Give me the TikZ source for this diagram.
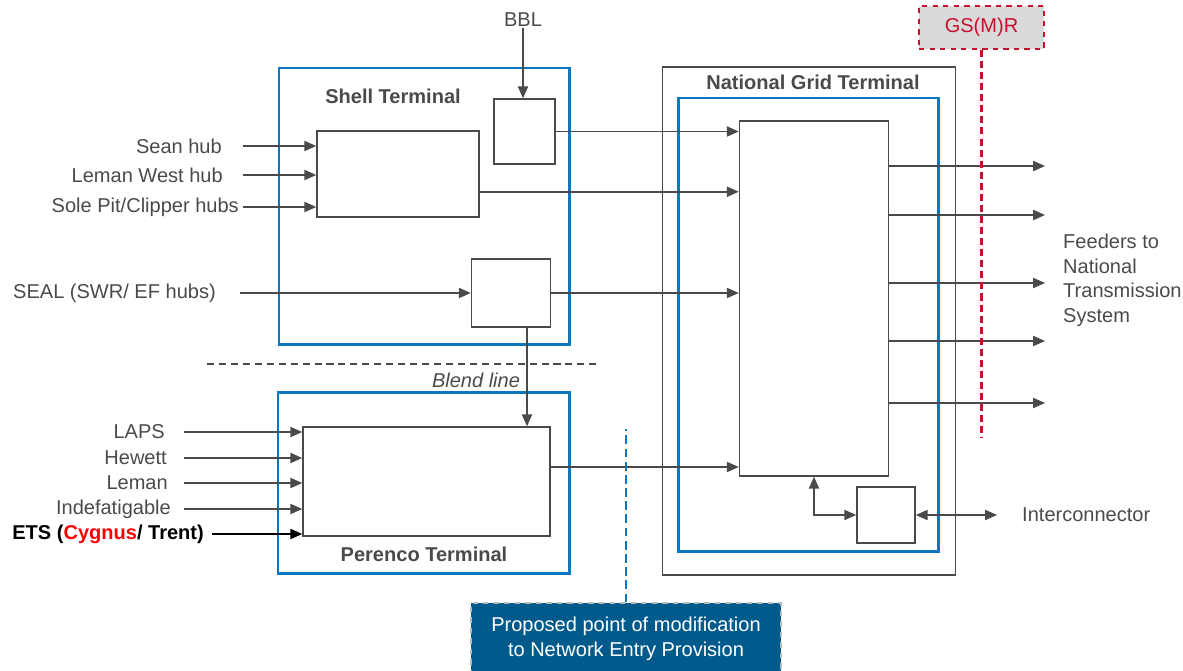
\documentclass[tikz,border=0pt]{standalone}
\usepackage{fontspec}
\setmainfont{Liberation Sans}
\usetikzlibrary{arrows.meta,calc}

\definecolor{termblue}{HTML}{0A78BE}
\definecolor{linegrey}{HTML}{4A4A4A}
\definecolor{navyfill}{HTML}{005A8C}
\definecolor{gsred}{HTML}{C8102E}
\definecolor{gsfill}{HTML}{D9D9D9}
\newcommand{\px}{0.02cm}
\newcommand{\lblfont}{\fontsize{11.4}{13.9}\selectfont}

\tikzset{
  blk/.style 2 args={draw=linegrey, line width=0.85pt, minimum width=#1*\px, minimum height=#2*\px, inner sep=0pt},
  terminal/.style 2 args={draw=termblue, line width=1.7pt, minimum width=#1*\px, minimum height=#2*\px, inner sep=0pt},
  lbl/.style={text=linegrey, inner sep=0.5pt, font=\lblfont},
  ttl/.style={lbl, font=\lblfont\bfseries},
  feed/.style={draw=linegrey, line width=0.9pt, -{Triangle[length=6.8pt,width=5.8pt]}},
  dfeed/.style={draw=linegrey, line width=0.9pt, {Triangle[length=6.8pt,width=5.8pt]}-{Triangle[length=6.8pt,width=5.8pt]}},
}

\begin{document}
\begin{tikzpicture}[x=0.02cm, y=-0.02cm]
			\useasboundingbox (0,0) rectangle (1183,670);

			% Terminals
			\node[terminal={290}{276}] (shell) at (424,206) {};
			\node[terminal={291}{181}] (perenco) at (423.5,483) {};
			\node[blk={293}{508}] (ngrid) at (809,321) {};
			\node[terminal={260}{453}] (ngblue) at (808,324.5) {};
			\node[ttl] (shellT) at (393,96) {Shell Terminal};
			\node[ttl] (perencoT) at (424,554) {Perenco Terminal};
			\node[ttl] (ngridT) at (813,82) {National Grid Terminal};

			% Anlagen
			\node[blk={61}{65}] (bblbox) at (524.5,131.5) {};
			\node[blk={162}{86}] (mix) at (398,174) {};
			\node[blk={79}{68}] (seal) at (511,293) {};
			\node[blk={247}{109}] (perin) at (426.5,481.5) {};
			\node[blk={149}{355}] (central) at (814,298.5) {};
			\node[blk={58}{56}] (icbox) at (886,515) {};

			% BBL
			\node[lbl] (bbl) at (523,20) {BBL};
			\draw[feed] (bbl.south) -- (bbl.south |- bblbox.north);

			% Shell inputs
			\node[lbl, anchor=east] (sean) at (223,146) {Sean hub};
			\node[lbl, anchor=east] (lemanw) at (224,175) {Leman West hub};
			\node[lbl, anchor=east] (solepit) at (240,207) {Sole Pit/Clipper hubs};
			\node[lbl, anchor=east] (sealT) at (217,293) {SEAL (SWR/ EF hubs)};
			\draw[feed] ($(sean.east)+(20,0)$) -- (mix.west |- sean.east);
			\draw[feed] ($(lemanw.east)+(19,0)$) -- (mix.west |- lemanw.east);
			\draw[feed] ($(solepit.east)+(3,0)$) -- (mix.west |- solepit.east);
			\draw[feed] ($(sealT.east)+(23,0)$) -- (seal.west);

			% Blend line
			\draw[linegrey, line width=0.7pt, dash pattern=on 4pt off 2.8pt] (207,364) -- (600,364);
			\coordinate (blendtop) at ($(seal.south)+(16,0)$);
			\draw[feed] (blendtop) -- (blendtop |- perin.north);
			\node[lbl, font=\lblfont\itshape] (blend) at (476,380) {Blend line};

			% Perenco inputs
			\node[lbl, anchor=east] (laps) at (166,432) {LAPS};
			\node[lbl, anchor=east] (hewett) at (168,458) {Hewett};
			\node[lbl, anchor=east] (leman) at (169,483) {Leman};
			\node[lbl, anchor=east] (indef) at (172,509) {Indefatigable};
			\node[lbl, anchor=east, text=black, font=\lblfont\bfseries] (ets) at (205,534) {ETS (\textcolor{red}{Cygnus}/ Trent)};
			\coordinate (perstart) at ($(laps.east)+(18,0)$);
			\foreach \src in {laps,hewett,leman,indef}
				\draw[feed] (perstart |- \src.east) -- (perin.west |- \src.east);
			\draw[feed, draw=black] ($(ets.east)+(7,0)$) -- (perin.west |- ets.east);

			% Zum National Grid Terminal
			\coordinate (mixout) at ($(mix.south east)+(0,-26)$);
			\coordinate (perout) at ($(perin.east)+(0,-14.5)$);
			\draw[feed] (bblbox.east) -- (central.west |- bblbox.east);
			\draw[feed] (mixout) -- (central.west |- mixout);
			\draw[feed] (seal.east) -- (central.west |- seal.east);
			\draw[feed] (perout) -- (central.west |- perout);

			% Feeders
			\foreach \y [count=\i] in {166,215,283,341,403} {
				\coordinate (out\i) at (1045,\y);
				\draw[feed] (central.east |- out\i) -- (out\i);
			}
			\node[lbl, anchor=north west, align=left] (feeders) at (1062,233) {Feeders to\\National\\Transmission\\System};

			% Interconnector
			\node[lbl, anchor=west] (icon) at (1021,515) {Interconnector};
			\draw[dfeed] (central.south) -- (central.south |- icbox.west) -- (icbox.west);
			\draw[dfeed] (icbox.east) -- ($(icon.west)+(-24,0)$);

			% GS(M)R
			\node[draw=gsred, dashed, line width=1.1pt, fill=gsfill, text=gsred, font=\lblfont, minimum width=125*\px, minimum height=43*\px] (gsmr) at (981.5,27.5) {GS(M)R};
			\draw[draw=gsred, line width=1.3pt, dash pattern=on 4pt off 2.3pt] (gsmr.south) -- ($(gsmr.south)+(0,388)$);

			% Eintrittspunkt
			\node[draw=gray!55, dashed, line width=0.8pt, fill=navyfill, text=white, font=\lblfont, align=center, minimum width=310*\px, minimum height=72*\px] (prop) at (626,639) {Proposed point of modification\\to Network Entry Provision};
			\draw[draw=termblue, line width=0.9pt, dash pattern=on 5pt off 2.5pt] (prop.north) -- ($(prop.north)+(0,-173)$);

		\end{tikzpicture}
\end{document}
